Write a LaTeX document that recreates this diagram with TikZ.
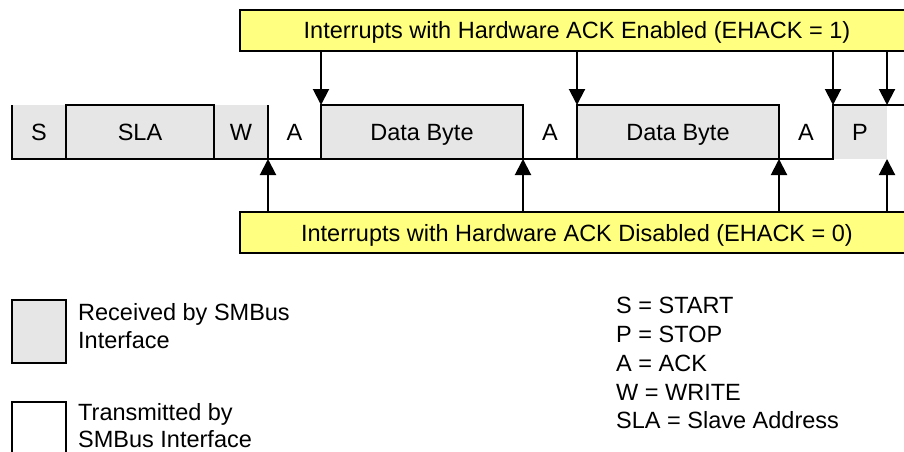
\documentclass[tikz,border=0pt]{standalone}
\usepackage{fontspec}
\setmainfont{Liberation Sans}
\usetikzlibrary{arrows.meta}
\definecolor{recv}{RGB}{230,230,230}
\definecolor{ylw}{RGB}{255,255,128}
\tikzset{
  txt/.style={font=\fontsize{23.5}{28}\selectfont},
  fld/.style={txt, rectangle, minimum height=54, inner sep=0pt, outer sep=0pt, text height=17pt, text depth=0pt},
  recvfld/.style={fld, fill=recv},
  ybox/.style={txt, rectangle, draw, fill=ylw, minimum height=41, minimum width=674, inner sep=0pt, outer sep=0pt, text height=17pt, text depth=0pt},
  ln/.style={line width=2pt, line join=miter},
  arr/.style={line width=2pt, -{Triangle[width=16pt,length=16pt]}},
  legtxt/.style={txt, anchor=base west, inner sep=0pt},
}
\begin{document}
\begin{tikzpicture}[x=1pt,y=-1pt]
\useasboundingbox (0,0) rectangle (904,452);
\clip (0,0) rectangle (904,452);
\fill[white] (0,0) rectangle (904,452);
% fields
\node[recvfld, minimum width=54] (S) at (39,132) {S};
\node[recvfld, minimum width=148] (SLA) at (140,132) {SLA};
\node[recvfld, minimum width=54] (W) at (241,132) {W};
\node[fld, minimum width=53] (A1) at (294.5,132) {A};
\node[recvfld, minimum width=202] (D1) at (422,132) {Data Byte};
\node[fld, minimum width=54] (A2) at (550,132) {A};
\node[recvfld, minimum width=202] (D2) at (678,132) {Data Byte};
\node[fld, minimum width=54] (A3) at (806,132) {A};
\node[recvfld, minimum width=54] (P) at (860,132) {P};
% borders
\draw[ln] (SLA.north west) rectangle (SLA.south east);
\draw[ln] (D1.north west) rectangle (D1.south east);
\draw[ln] (D2.north west) rectangle (D2.south east);
\draw[ln] (S.north west) -- (S.south west) -- (A3.south east) -- (P.north west) -- ([xshift=30pt]P.north east);
\draw[ln] (W.north east) -- (W.south east);
% interrupt boxes
\node[ybox, line width=2pt] (EN) at (577,30.5) {Interrupts with Hardware ACK Enabled (EHACK = 1)};
\node[ybox, line width=2pt] (DIS) at (577,232.5) {Interrupts with Hardware ACK Disabled (EHACK = 0)};
% arrows from top
\draw[arr] (EN.south -| D1.north west) -- (D1.north west);
\draw[arr] (EN.south -| D2.north west) -- (D2.north west);
\draw[arr] (EN.south -| P.north west) -- (P.north west);
\draw[arr] (EN.south -| P.north east) -- (P.north east);
% arrows from bottom
\draw[arr] (DIS.north -| W.south east) -- (W.south east);
\draw[arr] (DIS.north -| D1.south east) -- (D1.south east);
\draw[arr] (DIS.north -| D2.south east) -- (D2.south east);
\draw[arr] (DIS.north -| P.south east) -- (P.south east);
% legend
\node[rectangle, draw, ln, fill=recv, minimum width=54, minimum height=63, inner sep=0pt, outer sep=0pt] (LR) at (39,331.5) {};
\node[rectangle, draw, ln, fill=white, minimum width=54, minimum height=63, inner sep=0pt, outer sep=0pt] (LT) at (39,433.5) {};
\node[legtxt] (LR1) at (78,320) {Received by SMBus};
\node[legtxt] (LR2) at (78,348) {Interface};
\node[legtxt] (LT1) at (78,420) {Transmitted by};
\node[legtxt] (LT2) at (78,447.5) {SMBus Interface};
\node[legtxt] (K1) at (616,313) {S = START};
\node[legtxt] (K2) at (616,342) {P = STOP};
\node[legtxt] (K3) at (616,371) {A = ACK};
\node[legtxt] (K4) at (616,400) {W = WRITE};
\node[legtxt] (K5) at (616,428) {SLA = Slave Address};
\end{tikzpicture}
\end{document}
